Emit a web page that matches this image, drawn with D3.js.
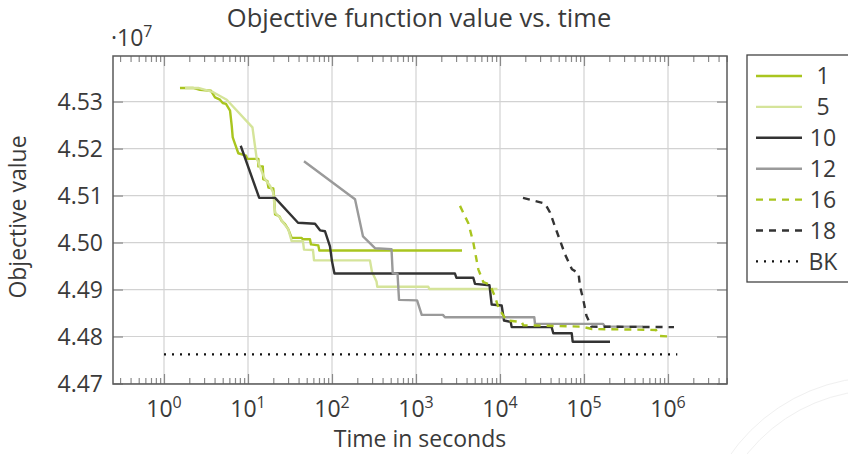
<!DOCTYPE html>
<html>
<head>
<meta charset="utf-8">
<script src="https://cdn.jsdelivr.net/npm/d3@7"></script>
<style>
  body { margin: 0; background: #fff; }
  svg { display: block; font-family: "Open Sans", Lato, sans-serif; }
</style>
</head>
<body>
<svg id="chart" width="848" height="454"></svg>
<script>
// Objective value (in units of 1e7) against elapsed time in seconds, per run.
const run1 = [[1.55,4.5329],[2.21,4.5329],[2.68,4.5325],[3.63,4.5323],[4.05,4.5309],[4.64,4.5304],[5.00,4.5297],[5.47,4.5295],[6.11,4.5281],[6.40,4.5249],[6.58,4.5224],[7.00,4.5210],[7.67,4.5190],[9.47,4.5185],[9.82,4.5178],[13.3,4.5178],[13.3,4.5162],[15.0,4.5162],[15.2,4.5135],[17.0,4.5131],[17.5,4.5117],[20.0,4.5115],[20.4,4.5099],[21.0,4.5060],[23.6,4.5056],[25.2,4.5046],[27.6,4.5039],[30.2,4.5028],[33.1,4.5010],[43.6,4.5010],[44.8,4.5007],[54.7,4.5007],[56.2,4.4996],[68.7,4.4994],[70.6,4.4983],[3530,4.4983]];
const run5 = [[1.78,4.5329],[2.56,4.5329],[3.86,4.5320],[5.58,4.5304],[11.3,4.5245],[12.1,4.5206],[12.7,4.5178],[13.3,4.5171],[13.9,4.5160],[15.9,4.5135],[18.3,4.5121],[20.0,4.5106],[21.0,4.5064],[24.0,4.5053],[26.3,4.5042],[30.2,4.5028],[33.1,4.5003],[45.1,4.5003],[46.4,4.4985],[59.4,4.4984],[61.1,4.4962],[283,4.4962],[299,4.4938],[339,4.4917],[346,4.4906],[1400,4.4906],[1440,4.4901],[9330,4.4901]];
const run10 = [[8.19,4.5206],[13.6,4.5095],[21.0,4.5095],[39.4,4.5042],[62.8,4.5040],[72.0,4.5026],[82.6,4.5024],[94.6,4.4992],[100,4.4960],[107,4.4934],[2910,4.4934],[3030,4.4925],[4810,4.4925],[5040,4.4912],[7500,4.4909],[7960,4.4868],[10470,4.4866],[11160,4.4834],[13400,4.4831],[13780,4.4820],[41200,4.4820],[43100,4.4807],[71400,4.4807],[73300,4.4789],[204000,4.4789]];
const run12 = [[46.4,4.5173],[188,4.5092],[234,4.5013],[325,4.4988],[511,4.4986],[528,4.4935],[603,4.4933],[628,4.4878],[1030,4.4877],[1170,4.4846],[2090,4.4846],[2210,4.4841],[25600,4.4841],[26100,4.4827],[168000,4.4827],[178000,4.4821],[504000,4.4821]];
const run16 = [[3340,4.5078],[4200,4.5041],[4810,4.5000],[5520,4.4943],[6330,4.4916],[7600,4.4910],[8720,4.4885],[9600,4.4861],[11480,4.4839],[12030,4.4834],[18100,4.4831],[18930,4.4824],[94600,4.4821],[124500,4.4816],[719000,4.4814],[803000,4.4801],[1087000,4.4800]];
const run18 = [[18790,4.5095],[34300,4.5083],[39400,4.5064],[47300,4.5024],[59400,4.4975],[71900,4.4943],[86000,4.4935],[89600,4.4907],[98100,4.4878],[107000,4.4844],[122800,4.4821],[1178000,4.4820]];
// Best known objective value, drawn over the time span of the runs.
const bestKnown = [[1,4.4762],[1290000,4.4762]];

const seriesLabels = ["1", "5", "10", "12", "16", "18", "BK"];
const xTickExponents = [0, 1, 2, 3, 4, 5, 6];
const yTickValues = [4.47, 4.48, 4.49, 4.50, 4.51, 4.52, 4.53];

const series = [
  { label: seriesLabels[0], data: run1,  color: "#a9c51f", width: 2.4, dash: null },
  { label: seriesLabels[1], data: run5,  color: "#d5e49a", width: 2.4, dash: null },
  { label: seriesLabels[2], data: run10, color: "#333333", width: 2.4, dash: null },
  { label: seriesLabels[3], data: run12, color: "#9a9a9a", width: 2.4, dash: null },
  { label: seriesLabels[4], data: run16, color: "#a9c51f", width: 2.4, dash: "7,6" },
  { label: seriesLabels[5], data: run18, color: "#333333", width: 2.4, dash: "7,6" },
  { label: seriesLabels[6], data: bestKnown, color: "#111111", width: 2.4, dash: "2,6" }
];

const svg = d3.select("#chart");
const textColor = "#3a3a3a";
const fontSize = 23;
const supSize = 16;

const plotLeft = 113, plotRight = 727, plotTop = 56, plotBottom = 384;
const x = d3.scaleLog().domain([Math.pow(10, -0.6071), Math.pow(10, 6.7024)]).range([plotLeft, plotRight]);
const y = d3.scaleLinear().domain([4.47, 4.5397]).range([383.5, plotTop]);

// faint seal in the lower right corner
const seal = svg.append("g").attr("fill", "none").attr("stroke", "#f0f0f0").attr("stroke-width", 1);
seal.append("circle").attr("cx", 880).attr("cy", 560).attr("r", 183);
seal.append("circle").attr("cx", 880).attr("cy", 560).attr("r", 170);

// grid
const grid = svg.append("g").attr("stroke", "#d2d2d2").attr("stroke-width", 1.2);
xTickExponents.forEach(e => {
  grid.append("line").attr("x1", x(Math.pow(10, e))).attr("x2", x(Math.pow(10, e)))
    .attr("y1", plotTop).attr("y2", plotBottom);
});
yTickValues.forEach(v => {
  grid.append("line").attr("x1", plotLeft).attr("x2", plotRight).attr("y1", y(v)).attr("y2", y(v));
});

// axes with inward ticks on all four sides
const minorTicks = x.ticks().filter(t => Math.abs(Math.log10(t) - Math.round(Math.log10(t))) > 1e-6);
const majorTicks = xTickExponents.map(e => Math.pow(10, e));

const axisBottom = d3.axisBottom(x).tickValues(minorTicks).tickSize(-6).tickFormat("");
const axisTop = d3.axisTop(x).tickValues(minorTicks).tickSize(-6).tickFormat("");
const axisBottomMajor = d3.axisBottom(x).tickValues(majorTicks).tickSize(-10).tickFormat("");
const axisTopMajor = d3.axisTop(x).tickValues(majorTicks).tickSize(-10).tickFormat("");
const axisLeft = d3.axisLeft(y).tickValues(yTickValues).tickSize(-10).tickFormat("");
const axisRight = d3.axisRight(y).tickValues(yTickValues).tickSize(-10).tickFormat("");

function styleAxis(g) {
  g.select(".domain").remove();
  g.selectAll(".tick line").attr("stroke", "#8a8a8a").attr("stroke-width", 1.2);
}
svg.append("g").attr("transform", `translate(0,${plotBottom})`).call(axisBottom).call(styleAxis);
svg.append("g").attr("transform", `translate(0,${plotTop})`).call(axisTop).call(styleAxis);
svg.append("g").attr("transform", `translate(0,${plotBottom})`).call(axisBottomMajor).call(styleAxis);
svg.append("g").attr("transform", `translate(0,${plotTop})`).call(axisTopMajor).call(styleAxis);
svg.append("g").attr("transform", `translate(${plotLeft},0)`).call(axisLeft).call(styleAxis);
svg.append("g").attr("transform", `translate(${plotRight},0)`).call(axisRight).call(styleAxis);

// data lines
const line = d3.line().x(d => x(d[0])).y(d => y(d[1]));
const plot = svg.append("g");
series.forEach(s => {
  plot.append("path").datum(s.data)
    .attr("fill", "none")
    .attr("stroke", s.color)
    .attr("stroke-width", s.width)
    .attr("stroke-dasharray", s.dash)
    .attr("stroke-linejoin", "round")
    .attr("d", line);
});

// frame
svg.append("rect").attr("x", plotLeft).attr("y", plotTop)
  .attr("width", plotRight - plotLeft).attr("height", plotBottom - plotTop)
  .attr("fill", "none").attr("stroke", "#5a5a5a").attr("stroke-width", 1.5);

// tick labels
const yLabels = svg.append("g").attr("fill", textColor).attr("font-size", fontSize).attr("text-anchor", "end");
yTickValues.forEach(v => {
  yLabels.append("text").attr("x", 103).attr("y", y(v)).attr("dy", "0.36em").text(d3.format(".2f")(v));
});

const xLabels = svg.append("g").attr("fill", textColor).attr("font-size", fontSize);
xTickExponents.forEach(e => {
  const t = xLabels.append("text").attr("x", x(Math.pow(10, e))).attr("y", 417).attr("text-anchor", "middle");
  t.append("tspan").text("10");
  t.append("tspan").attr("dy", -9).attr("font-size", supSize).text(String(e));
});

// scale factor above the y axis
const scaleLabel = svg.append("text").attr("x", 111).attr("y", 46).attr("fill", textColor).attr("font-size", fontSize);
scaleLabel.append("tspan").text("\u00b710");
scaleLabel.append("tspan").attr("dy", -9).attr("font-size", supSize).text("7");

// titles
svg.append("text").attr("x", 419).attr("y", 27).attr("text-anchor", "middle")
  .attr("fill", textColor).attr("font-size", 25.5).text("Objective function value vs. time");
svg.append("text").attr("x", 420).attr("y", 447).attr("text-anchor", "middle")
  .attr("fill", textColor).attr("font-size", fontSize).text("Time in seconds");
svg.append("text").attr("transform", "translate(26,217) rotate(-90)").attr("text-anchor", "middle")
  .attr("fill", textColor).attr("font-size", fontSize).text("Objective value");

// legend
const legend = svg.append("g");
legend.append("rect").attr("x", 747).attr("y", 55).attr("width", 120).attr("height", 227)
  .attr("fill", "#fff").attr("stroke", "#444").attr("stroke-width", 1.3);
series.forEach((s, i) => {
  const ly = 76 + i * 30.9;
  legend.append("line").attr("x1", 756).attr("x2", 802).attr("y1", ly).attr("y2", ly)
    .attr("stroke", s.color).attr("stroke-width", s.width).attr("stroke-dasharray", s.dash);
  legend.append("text").attr("x", 823).attr("y", ly).attr("dy", "0.36em").attr("text-anchor", "middle")
    .attr("fill", textColor).attr("font-size", fontSize).text(s.label);
});
</script>
</body>
</html>
